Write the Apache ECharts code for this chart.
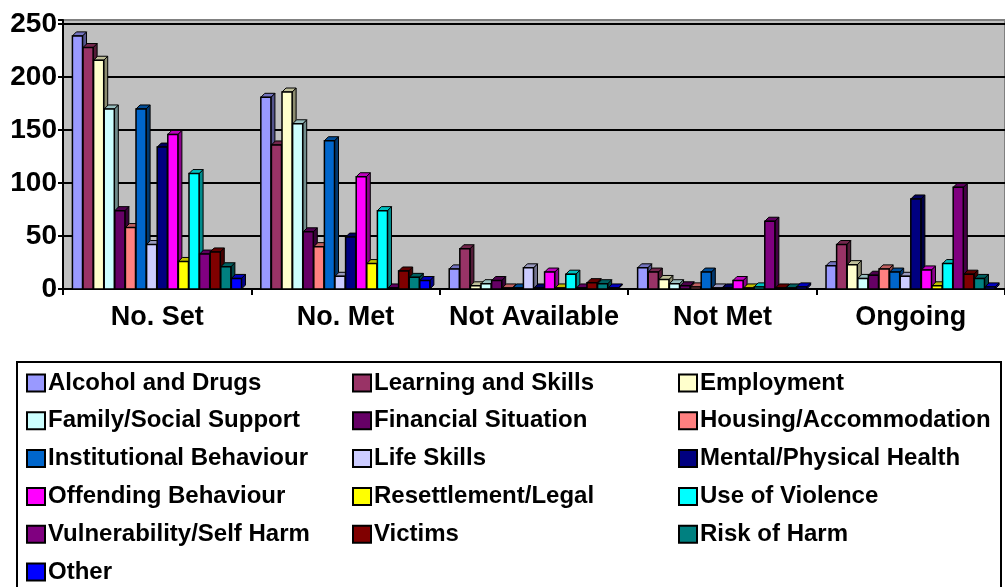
<!DOCTYPE html>
<html>
<head>
<meta charset="utf-8">
<script src="https://cdn.jsdelivr.net/npm/echarts@6/dist/echarts.min.js"></script>
<style>html,body{margin:0;padding:0;background:#fff;}#chart{width:1005px;height:587px;}</style>
</head>
<body>
<div id="chart"></div>
<script>
var categories = ['No. Set', 'No. Met', 'Not Available', 'Not Met', 'Ongoing'];
var yTicks = [0, 50, 100, 150, 200, 250];

var alcoholDrugs        = [239, 181, 19, 20, 22];
var learningSkills      = [228, 136, 38, 16, 42];
var employment          = [216, 186, 3, 9, 23];
var familySocial        = [170, 156, 5, 5, 10];
var financialSituation  = [74, 54, 8, 3, 13];
var housing             = [58, 40, 1, 2, 19];
var institutional       = [170, 140, 1, 16, 16];
var lifeSkills          = [42, 12, 20, 1, 12];
var mentalPhysical      = [134, 49, 1, 1, 85];
var offending           = [146, 106, 16, 8, 18];
var resettlement        = [26, 24, 1, 1, 3];
var useOfViolence       = [109, 74, 14, 2, 24];
var vulnerability       = [33, 1, 1, 64, 96];
var victims             = [35, 17, 6, 1, 14];
var riskOfHarm          = [21, 11, 5, 1, 10];
var other               = [10, 8, 1, 2, 2];

var seriesNames = ['Alcohol and Drugs', 'Learning and Skills', 'Employment',
  'Family/Social Support', 'Financial Situation', 'Housing/Accommodation',
  'Institutional Behaviour', 'Life Skills', 'Mental/Physical Health',
  'Offending Behaviour', 'Resettlement/Legal', 'Use of Violence',
  'Vulnerability/Self Harm', 'Victims', 'Risk of Harm', 'Other'];
var seriesValues = [alcoholDrugs, learningSkills, employment, familySocial,
  financialSituation, housing, institutional, lifeSkills, mentalPhysical,
  offending, resettlement, useOfViolence, vulnerability, victims, riskOfHarm, other];
var seriesColors = ['#9999FF', '#993366', '#FFFFCC', '#CCFFFF', '#660066', '#FF8080',
  '#0066CC', '#CCCCFF', '#000080', '#FF00FF', '#FFFF00', '#00FFFF',
  '#800080', '#800000', '#008080', '#0000FF'];

var N = seriesNames.length;
var FONT = "'Liberation Sans', Arial, sans-serif";

function shade(hex, f) {
  var r = parseInt(hex.substr(1,2),16), g = parseInt(hex.substr(3,2),16), b = parseInt(hex.substr(5,2),16);
  return 'rgb(' + Math.round(r*f) + ',' + Math.round(g*f) + ',' + Math.round(b*f) + ')';
}

var series = seriesNames.map(function(name, si) {
  var color = seriesColors[si];
  return {
    name: name,
    type: 'custom',
    itemStyle: { color: color },
    encode: { x: 0, y: 1 },
    data: seriesValues[si].map(function(v, ci) { return [ci, v]; }),
    renderItem: function(params, api) {
      var ci = api.value(0), val = api.value(1);
      var base = api.coord([ci, 0]);
      var top = api.coord([ci, val]);
      var band = api.size([1, 0])[0];
      var groupW = band * 0.9;
      var pitch = groupW / N;
      var x0 = base[0] - groupW / 2 + si * pitch;
      var w = pitch - 0.5;
      var d = 4;
      var x1 = x0 + w;
      var yt = top[1], yb = base[1];
      return {
        type: 'group',
        children: [
          { type: 'polygon', shape: { points: [[x1, yt], [x1 + d, yt - d], [x1 + d, yb - d], [x1, yb]] },
            style: { fill: shade(color, 0.55), stroke: '#000', lineWidth: 1 } },
          { type: 'polygon', shape: { points: [[x0, yt], [x0 + d, yt - d], [x1 + d, yt - d], [x1, yt]] },
            style: { fill: shade(color, 0.75), stroke: '#000', lineWidth: 1 } },
          { type: 'rect', shape: { x: x0, y: yt, width: w, height: Math.max(yb - yt, 0) },
            style: { fill: color, stroke: '#000', lineWidth: 1.5 } }
        ]
      };
    }
  };
});

var colIdx = [[0, 3, 6, 9, 12, 15], [1, 4, 7, 10, 13], [2, 5, 8, 11, 14]];
var colLeft = [26, 352, 678];
var legends = colIdx.map(function(idxs, c) {
  return {
    orient: 'vertical',
    left: colLeft[c],
    top: 371,
    height: 260,
    icon: 'rect',
    itemWidth: 18,
    itemHeight: 17,
    itemGap: 13.8,
    selectedMode: false,
    padding: 0,
    itemStyle: { borderColor: '#000', borderWidth: 2 },
    textStyle: { fontFamily: FONT, fontWeight: 'bold', fontSize: 24, color: '#000', padding: [0, 0, 0, -2] },
    data: idxs.map(function(i) { return { name: seriesNames[i], itemStyle: { color: seriesColors[i] } }; })
  };
});

var chart = echarts.init(document.getElementById('chart'), null, { renderer: 'canvas' });
chart.setOption({
  animation: false,
  backgroundColor: '#fff',
  graphic: [
    { type: 'rect', shape: { x: 17, y: 362, width: 984, height: 240 },
      style: { fill: 'none', stroke: '#000', lineWidth: 2 }, z: 0 }
  ],
  legend: legends,
  grid: {
    left: 63, right: 0, top: 20, bottom: 298,
    show: true, backgroundColor: '#C0C0C0', borderColor: '#808080', borderWidth: 2
  },
  xAxis: {
    type: 'category',
    data: categories,
    axisLine: { lineStyle: { color: '#000', width: 2 } },
    axisTick: { show: true, length: 6, lineStyle: { color: '#000', width: 2 } },
    axisLabel: { interval: 0, fontFamily: FONT, fontWeight: 'bold', fontSize: 27, color: '#000', margin: 15 },
    splitLine: { show: false }
  },
  yAxis: {
    type: 'value',
    min: yTicks[0], max: 254, interval: 50,
    axisLine: { show: true, lineStyle: { color: '#000', width: 2 } },
    axisTick: { show: true, length: 5, lineStyle: { color: '#000', width: 2 } },
    axisLabel: { fontFamily: FONT, fontWeight: 'bold', fontSize: 28, color: '#000', margin: 6,
      formatter: function(v) { return yTicks.indexOf(v) >= 0 ? String(v) : ''; } },
    splitLine: { show: true, showMaxLine: false, lineStyle: { color: '#000', width: 2 } }
  },
  series: series
});
</script>
</body>
</html>
